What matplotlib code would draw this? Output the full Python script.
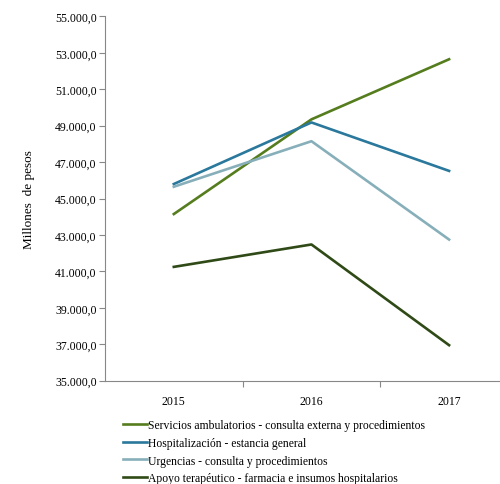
from matplotlib import pyplot as plt
from matplotlib.ticker import FuncFormatter

years = ['2015', '2016', '2017']
servicios = [44150, 49350, 52650]
hospitalizacion = [45800, 49180, 46520]
urgencias = [45650, 48150, 42750]
apoyo = [41250, 42480, 36950]
names = ['Servicios ambulatorios - consulta externa y procedimientos',
         'Hospitalización - estancia general',
         'Urgencias - consulta y procedimientos',
         'Apoyo terapéutico - farmacia e insumos hospitalarios']
colors = ['#557d1e', '#2a789c', '#87afba', '#2f4a16']

plt.rcParams['font.family'] = 'Liberation Serif'

fig = plt.figure(figsize=(5, 4.85), dpi=100)
ax = fig.add_axes([0.21, 0.213, 0.79, 0.751])

x = range(len(years))
for vals, name, c in zip([servicios, hospitalizacion, urgencias, apoyo], names, colors):
	ax.plot(x, vals, color=c, linewidth=1.9, label=name)

def fmt(v, pos):
	s = '{:,.1f}'.format(v)
	return s.replace(',', 'X').replace('.', ',').replace('X', '.')

ax.set_ylim(35000, 55000)
ax.set_yticks(range(35000, 55001, 2000))
ax.yaxis.set_major_formatter(FuncFormatter(fmt))
ax.set_xlim(-0.5, 2.37)
ax.set_xticks([0.5, 1.5], minor=False)
ax.set_xticklabels([])
ax.set_xticks(list(x), minor=True)
ax.set_xticklabels(years, minor=True)
ax.tick_params(axis='x', which='minor', length=0, pad=10, labelsize=8.5)
ax.tick_params(axis='x', which='major', length=4, color='#888888')
ax.tick_params(axis='y', length=4, color='#888888', labelsize=8.5, pad=2)
for s in ['top', 'right']:
	ax.spines[s].set_visible(False)
for s in ['left', 'bottom']:
	ax.spines[s].set_color('#888888')
ax.set_ylabel('Millones  de pesos', fontsize=9.5, labelpad=14)

ax.legend(loc='upper left', bbox_to_anchor=(0.035, -0.092), frameon=False, fontsize=8.4,
          handlelength=2.0, handletextpad=0.1, labelspacing=0.5, borderaxespad=0)

plt.savefig('out.png')
